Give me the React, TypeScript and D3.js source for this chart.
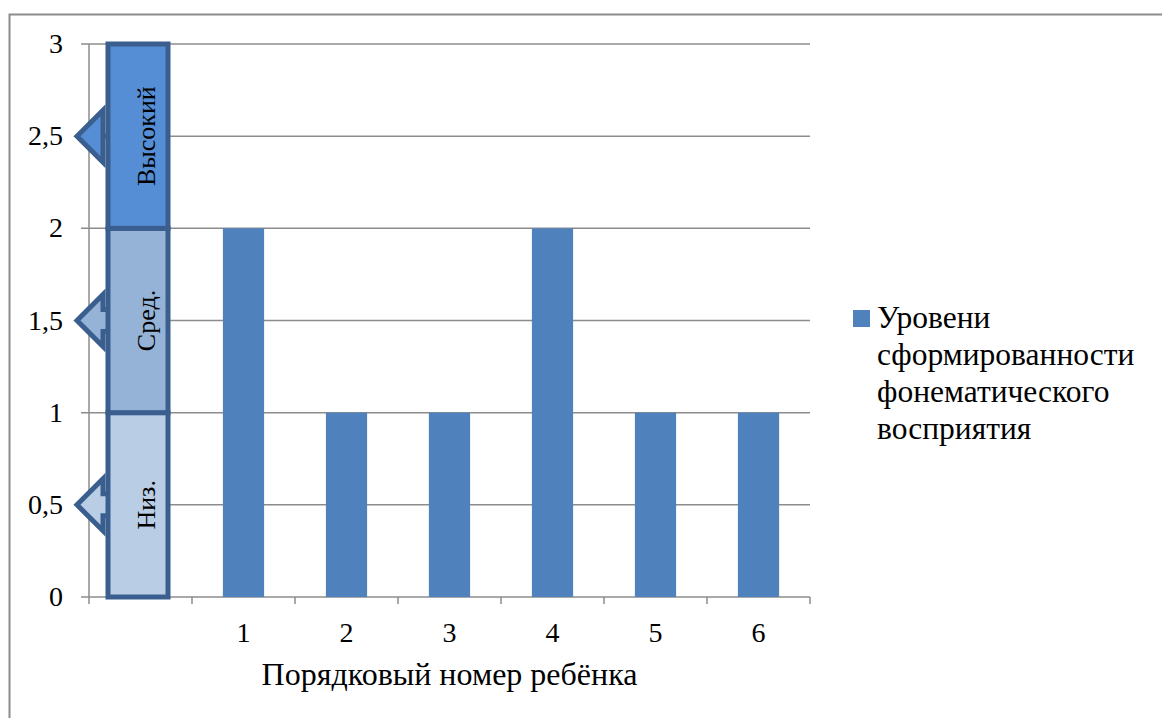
import React from "react";
import * as d3 from "d3";

const categories = ["", "1", "2", "3", "4", "5", "6"];
const values: (number | null)[] = [null, 2, 1, 1, 2, 1, 1];
const yTicks = [0, 0.5, 1, 1.5, 2, 2.5, 3];
const levelNames = ["Низ.", "Сред.", "Высокий"];
const levelFrom = [0, 1, 2];
const levelTo = [1, 2, 3];
const levelFills = ["#B9CDE5", "#95B3D7", "#558ED5"];
const legendLines = ["Уровени", "сформированности", "фонематического", "восприятия"];
const xTitle = "Порядковый номер ребёнка";

const W = 1162;
const H = 718;
const FONT = "'Liberation Serif', 'Times New Roman', serif";

export default function App() {
  const left = 89, right = 810, top = 44, bottom = 597;
  const x = d3.scaleBand<string>().domain(categories).range([left, right]).paddingInner(0.6).paddingOuter(0.3);
  const y = d3.scaleLinear().domain([0, 3]).range([bottom, top]);
  const fmt = (v: number) => String(v).replace(".", ",");

  const boxL = left + 19;
  const boxR = left + 79;
  const edge = "#3A5F8E";

  return (
    <svg width={W} height={H} style={{ position: "absolute", left: 0, top: 0 }} fontFamily={FONT}>
      <rect x={0} y={0} width={W} height={H} fill="#fff" />
      <rect x={9.5} y={14.5} width={W + 20} height={H + 20} fill="none" stroke="#8C8C8C" strokeWidth={2} />

      {/* horizontal gridlines */}
      {yTicks.map((t) => (
        <line key={t} x1={left - 8} x2={right} y1={y(t)} y2={y(t)} stroke="#8C8C8C" strokeWidth={1.5} />
      ))}
      {/* value axis */}
      <line x1={left} x2={left} y1={top} y2={bottom + 7} stroke="#8C8C8C" strokeWidth={1.5} />
      {/* category tick marks */}
      {categories.map((c, i) => {
        const xx = left + x.step() * (i + 1);
        return <line key={c + i} x1={xx} x2={xx} y1={bottom} y2={bottom + 7} stroke="#8C8C8C" strokeWidth={1.5} />;
      })}

      {/* bars */}
      {categories.map((c, i) =>
        values[i] == null ? null : (
          <rect key={c} x={x(c)!} y={y(values[i]!)} width={x.bandwidth()} height={y(0) - y(values[i]!)} fill="#4F81BD" />
        )
      )}

      {/* level callouts */}
      {levelNames.map((name, i) => {
        const y0 = y(levelTo[i]);
        const y1 = y(levelFrom[i]);
        const mid = (y0 + y1) / 2;
        const tip = boxL - 31;
        const base = boxL - 5;
        const hh = 26;
        const sh = 11;
        const thin = i === 2;
        const arrow = thin
          ? `M${tip},${mid} L${base},${mid - hh} L${base},${mid + hh} Z`
          : `M${tip},${mid} L${base},${mid - hh} L${base},${mid - sh} L${boxL + 2},${mid - sh} L${boxL + 2},${mid + sh} L${base},${mid + sh} L${base},${mid + hh} Z`;
        return (
          <g key={name}>
            <path d={arrow} fill={levelFills[i]} stroke={edge} strokeWidth={5} strokeLinejoin="miter" />
            {thin && <line x1={base} x2={boxL} y1={mid} y2={mid} stroke={edge} strokeWidth={5} />}
            <rect x={boxL} y={y0} width={boxR - boxL} height={y1 - y0} fill={levelFills[i]} stroke={edge} strokeWidth={5} />
            <text
              transform={`translate(${boxL + 47},${mid}) rotate(-90)`}
              textAnchor="middle"
              fontSize={26}
              fill="#000"
            >
              {name}
            </text>
          </g>
        );
      })}

      {/* y tick labels */}
      {yTicks.map((t) => (
        <text key={t} x={left - 26} y={y(t) + 9} textAnchor="end" fontSize={28} fill="#000">
          {fmt(t)}
        </text>
      ))}

      {/* x tick labels */}
      {categories.map((c) =>
        c ? (
          <text key={c} x={x(c)! + x.bandwidth() / 2} y={642} textAnchor="middle" fontSize={28} fill="#000">
            {c}
          </text>
        ) : null
      )}
      <text x={(left + right) / 2} y={685} textAnchor="middle" fontSize={32} fill="#000">
        {xTitle}
      </text>

      {/* legend */}
      <rect x={853} y={310} width={17} height={17} fill="#4F81BD" />
      {legendLines.map((l, i) => (
        <text key={l} x={877} y={328 + i * 37} fontSize={31.5} fill="#000">
          {l}
        </text>
      ))}
    </svg>
  );
}
